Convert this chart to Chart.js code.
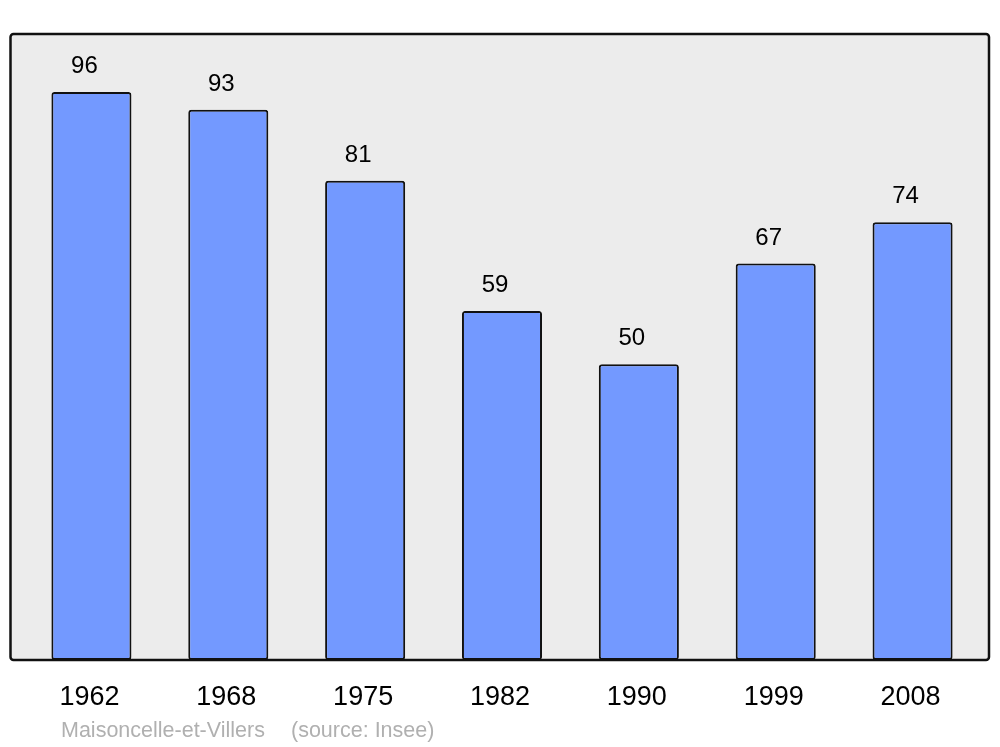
<!DOCTYPE html>
<html>
<head>
<meta charset="utf-8">
<script src="https://cdn.jsdelivr.net/npm/chart.js@4/dist/chart.umd.min.js"></script>
<style>
  body { margin: 0; background: #fff; }
  canvas { display: block; }
</style>
</head>
<body>
<canvas id="popChart" width="1000" height="747"></canvas>
<script>
const years = ['1962', '1968', '1975', '1982', '1990', '1999', '2008'];
const population = [96, 93, 81, 59, 50, 67, 74];
const commune = 'Maisoncelle-et-Villers';
const source = '(source: Insee)';

// frame, value labels, year labels and footer
const decorations = {
  id: 'decorations',
  beforeDatasetsDraw(chart) {
    const { ctx, chartArea } = chart;
    const x0 = chartArea.left - 12.5, x1 = chartArea.right + 8;
    const y0 = chartArea.top, y1 = chartArea.bottom;
    ctx.save();
    ctx.beginPath();
    ctx.roundRect(x0, y0, x1 - x0, y1 - y0, 3);
    ctx.fillStyle = '#ececec';
    ctx.fill();
    ctx.restore();
  },
  afterDatasetsDraw(chart) {
    const { ctx, chartArea, scales } = chart;
    const x0 = chartArea.left - 12.5, x1 = chartArea.right + 8;
    const y0 = chartArea.top, y1 = chartArea.bottom;
    ctx.save();
    ctx.beginPath();
    ctx.roundRect(x0, y0, x1 - x0, y1 - y0, 3);
    ctx.lineWidth = 2.5;
    ctx.strokeStyle = '#111';
    ctx.stroke();

    ctx.fillStyle = '#000';
    ctx.textAlign = 'center';
    ctx.textBaseline = 'alphabetic';
    ctx.font = '24px "Liberation Sans", Arial, sans-serif';
    population.forEach((v, i) => {
      const x = scales.x.getPixelForValue(i);
      const y = scales.y.getPixelForValue(v);
      ctx.fillText(String(v), x - 7, y - 19);
    });

    ctx.font = '27px "Liberation Sans", Arial, sans-serif';
    ctx.textBaseline = 'middle';
    years.forEach((yr, i) => {
      const x = scales.x.getPixelForValue(i);
      ctx.fillText(yr, x - 2, y1 + 38);
    });

    ctx.fillStyle = '#b0b0b0';
    ctx.textAlign = 'left';
    ctx.font = '21.5px "Liberation Sans", Arial, sans-serif';
    ctx.fillText(commune, 61, y1 + 71);
    ctx.fillText(source, 291, y1 + 71);
    ctx.restore();
  }
};

new Chart(document.getElementById('popChart').getContext('2d'), {
  type: 'bar',
  data: {
    labels: years,
    datasets: [{
      data: population,
      backgroundColor: '#7399ff',
      borderColor: '#111',
      borderWidth: 2,
      borderRadius: 3,
      borderSkipped: false,
      barPercentage: 0.585,
      categoryPercentage: 1
    }]
  },
  options: {
    responsive: false,
    animation: false,
    layout: {
      padding: { left: 23, right: 19, top: 34, bottom: 87 }
    },
    plugins: {
      legend: { display: false },
      tooltip: { enabled: false }
    },
    scales: {
      x: { display: false },
      y: { display: false, min: 0, max: 105.8 }
    }
  },
  plugins: [decorations]
});
</script>
</body>
</html>
